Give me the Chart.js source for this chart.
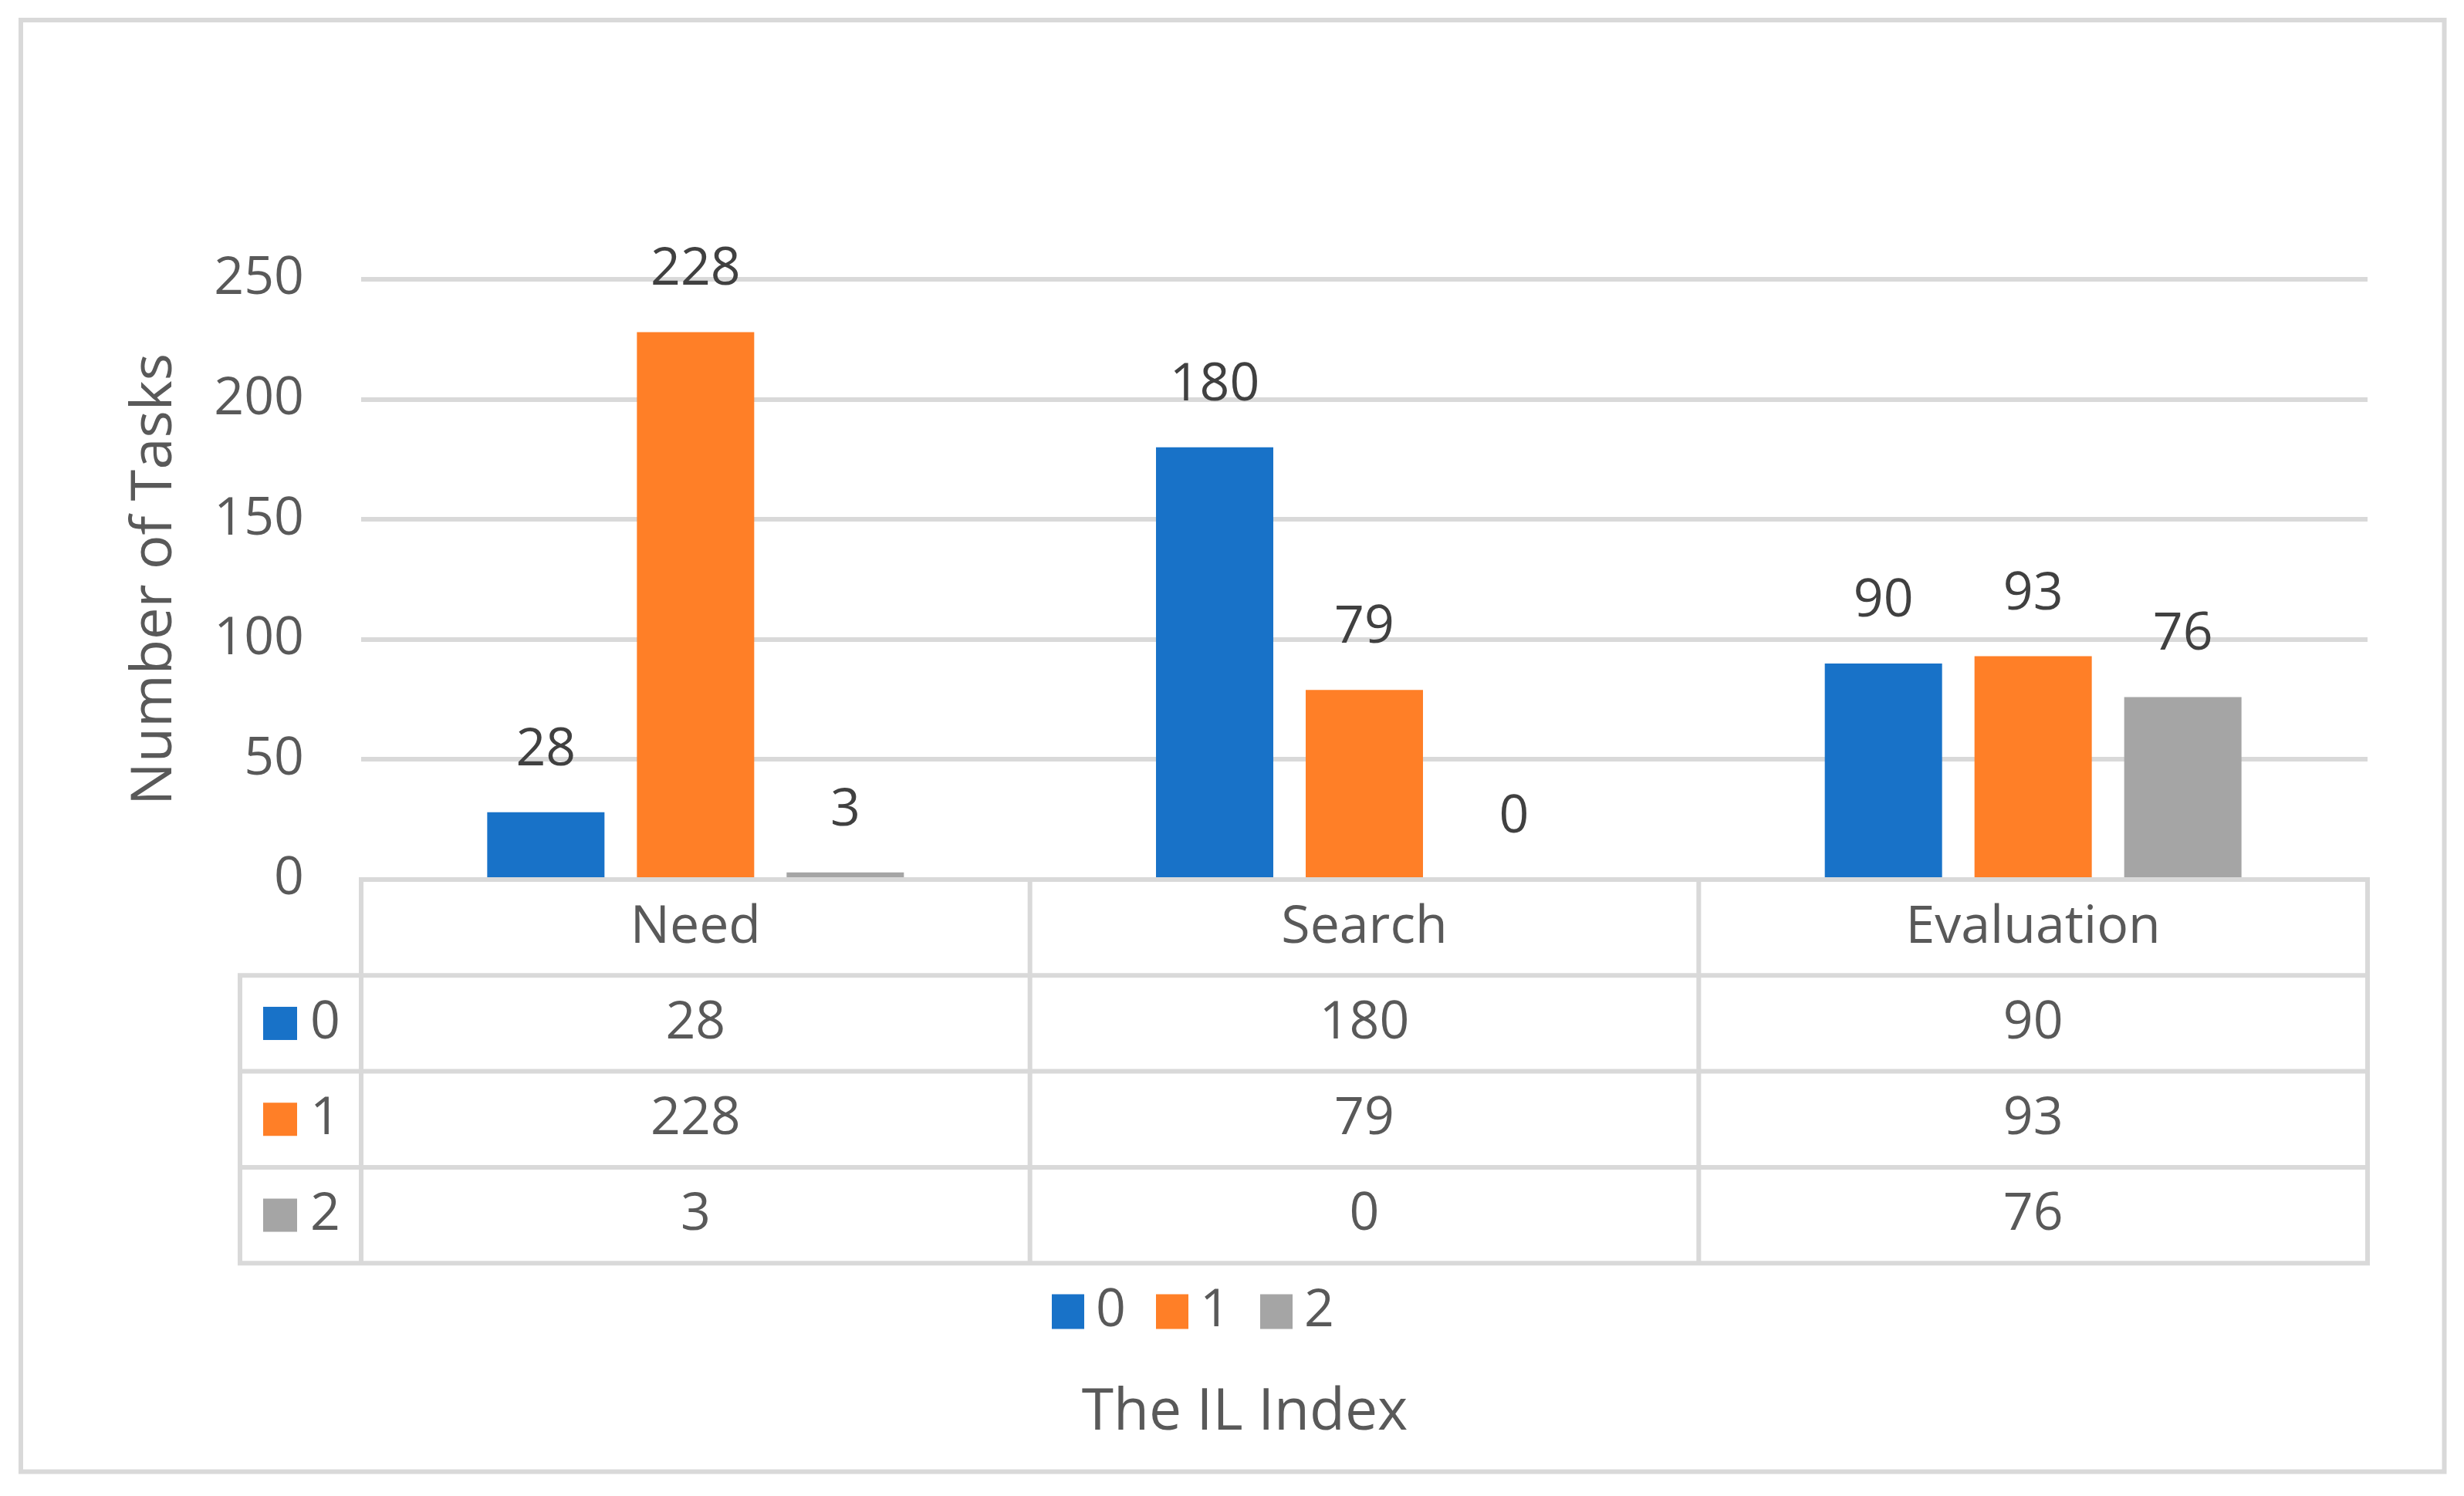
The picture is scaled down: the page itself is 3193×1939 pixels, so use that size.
<!DOCTYPE html>
<html><head><meta charset="utf-8">
<script src="https://cdn.jsdelivr.net/npm/chart.js@4.4.1/dist/chart.umd.min.js"></script>
<style>html,body{margin:0;padding:0;background:#fff;} #wrap{width:3193px;height:1939px;}</style>
</head><body><div id="wrap"><canvas id="c" width="3193" height="1939"></canvas></div>
<script>
// ---- data ----
const categories = ['Need', 'Search', 'Evaluation'];
const seriesNames = ['0', '1', '2'];
const series0 = [28, 180, 90];
const series1 = [228, 79, 93];
const series2 = [3, 0, 76];
const yTicks = [0, 50, 100, 150, 200, 250];
const yTitle = 'Number of Tasks';
const xTitle = 'The IL Index';

// ---- style ----
const colors = ['#1872C8', '#FF7F27', '#A5A5A5'];
const FONT = "'Open Sans', 'Noto Sans', sans-serif";
const TEXT = '#595959';
const LABEL = '#404040';
const LINE = '#d9d9d9';
const allSeries = [series0, series1, series2];

const decor = {
  id: 'decor',
  beforeDraw(chart) {
    const ctx = chart.ctx;
    ctx.save();
    ctx.fillStyle = '#fff';
    ctx.fillRect(0, 0, chart.width, chart.height);
    ctx.strokeStyle = LINE; ctx.lineWidth = 6;
    ctx.strokeRect(27, 26, 3167.5 - 27, 1907.5 - 26);
    ctx.restore();
  },
  afterDatasetsDraw(chart) {
    const ctx = chart.ctx;
    ctx.save();
    ctx.font = '68px ' + FONT;
    ctx.fillStyle = LABEL;
    ctx.textAlign = 'center';
    ctx.textBaseline = 'alphabetic';
    chart.data.datasets.forEach((ds, di) => {
      chart.getDatasetMeta(di).data.forEach((bar, i) => {
        ctx.fillText(String(ds.data[i]), bar.x, bar.y - 61);
      });
    });
    ctx.restore();
  },
  afterDraw(chart) {
    const ctx = chart.ctx;
    const xs = chart.scales.x;
    const ca = chart.chartArea;
    const top = ca.bottom;
    const rowH = 124.3;
    const n = categories.length;
    const catW = (ca.right - ca.left) / n;
    const legLeft = 311;
    ctx.save();
    ctx.strokeStyle = LINE; ctx.lineWidth = 6; ctx.lineCap = 'square';
    ctx.beginPath();
    for (let r = 0; r <= 4; r++) {
      const y = top + r * rowH;
      ctx.moveTo(r === 0 ? ca.left : legLeft, y);
      ctx.lineTo(ca.right, y);
    }
    ctx.moveTo(legLeft, top + rowH); ctx.lineTo(legLeft, top + 4 * rowH);
    for (let i = 0; i < n; i++) {
      const b = xs.getPixelForValue(i) - catW / 2;
      ctx.moveTo(b, top); ctx.lineTo(b, top + 4 * rowH);
    }
    const rb = xs.getPixelForValue(n - 1) + catW / 2;
    ctx.moveTo(rb, top); ctx.lineTo(rb, top + 4 * rowH);
    ctx.stroke();

    ctx.font = '68px ' + FONT;
    ctx.fillStyle = TEXT;
    ctx.textBaseline = 'middle';
    ctx.textAlign = 'center';
    categories.forEach((c, i) => ctx.fillText(c, xs.getPixelForValue(i), top + rowH / 2));
    allSeries.forEach((s, si) => {
      const yc = top + rowH * (si + 1.5);
      s.forEach((v, i) => ctx.fillText(String(v), xs.getPixelForValue(i), yc));
      ctx.fillStyle = colors[si];
      ctx.fillRect(341, yc - 21.5, 44, 43);
      ctx.fillStyle = TEXT;
      ctx.textAlign = 'left';
      ctx.fillText(seriesNames[si], 402, yc);
      ctx.textAlign = 'center';
    });

    // legend
    const legY = 1700;
    const keyX = [1363, 1498, 1633];
    seriesNames.forEach((name, si) => {
      ctx.fillStyle = colors[si];
      ctx.fillRect(keyX[si], legY - 22.5, 42, 45);
      ctx.fillStyle = TEXT;
      ctx.textAlign = 'left';
      ctx.fillText(name, keyX[si] + 57, legY);
    });

    // x title
    ctx.font = '75px ' + FONT;
    ctx.textAlign = 'center';
    ctx.textBaseline = 'alphabetic';
    ctx.fillText(xTitle, 1613, 1853);
    ctx.restore();
  }
};

new Chart(document.getElementById('c'), {
  type: 'bar',
  data: {
    labels: categories,
    datasets: allSeries.map((s, i) => ({
      label: seriesNames[i],
      data: s,
      backgroundColor: colors[i],
      borderWidth: 0,
      categoryPercentage: 0.6715,
      barPercentage: 0.7835
    }))
  },
  options: {
    responsive: false,
    animation: false,
    devicePixelRatio: 1,
    layout: { padding: { left: 100, right: 125, top: 362, bottom: 0 } },
    plugins: { legend: { display: false }, title: { display: false }, tooltip: { enabled: false } },
    scales: {
      x: {
        grid: { display: false },
        border: { display: false },
        ticks: { display: false },
        afterFit(scale) { scale.height = 799; }
      },
      y: {
        min: 0, max: 250,
        afterBuildTicks(scale) { scale.ticks = yTicks.map(v => ({ value: v })); },
        grid: { color: LINE, lineWidth: 6, drawTicks: false },
        border: { display: false },
        ticks: { padding: 74, color: TEXT, font: { family: FONT, size: 68 } },
        title: { display: true, text: yTitle, color: TEXT, font: { family: FONT, size: 74 }, padding: { top: 57, bottom: 0 } },
        afterFit(scale) { scale.width = 368; }
      }
    }
  },
  plugins: [decor]
});
</script>
</body></html>
